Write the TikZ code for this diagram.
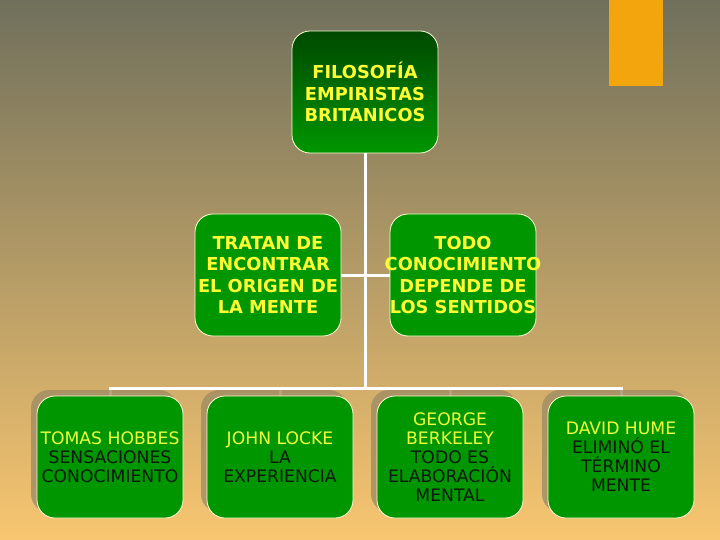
\documentclass[tikz,border=0pt]{standalone}
\usepackage{fontspec}
\setmainfont{DejaVu Sans}
\usetikzlibrary{shadows,backgrounds}

\definecolor{boxgreen}{RGB}{0,150,0}
\definecolor{topgreen}{RGB}{0,72,0}
\definecolor{txtyellow}{RGB}{255,255,51}
\definecolor{nameyellow}{RGB}{238,255,60}
\definecolor{txtdark}{RGB}{10,25,10}
\definecolor{shadowtan}{RGB}{160,140,100}
\definecolor{bgtop}{RGB}{112,112,92}
\definecolor{bgmid}{RGB}{190,160,105}
\definecolor{bgbot}{RGB}{248,198,112}
\definecolor{taborange}{RGB}{242,165,12}

\tikzset{
  box/.style={draw=white!85!yellow, line width=0.8pt, rounded corners=18pt,
    minimum width=146pt, minimum height=122pt, inner sep=0pt},
  boxtext/.style={align=center, text=txtyellow,
    font=\bfseries\fontsize{17.8}{21.5}\selectfont},
  leaftext/.style={align=center, text=txtdark,
    font=\fontsize{17.2}{19}\selectfont},
  leaf/.style={box, fill=boxgreen,
    drop shadow={shadow xshift=-6pt, shadow yshift=6pt, fill=shadowtan, opacity=0.8}},
  link/.style={draw=white, line width=3pt},
}

\begin{document}
\begin{tikzpicture}[x=1pt,y=-1pt]
  \node (emp) at (365,92) [box, top color=topgreen, bottom color=boxgreen,
    label={[boxtext]center:FILOSOFÍA\\EMPIRISTAS\\BRITANICOS}]{};

  \node (tratan) at (268,275) [box, fill=boxgreen,
    label={[boxtext]center:TRATAN DE\\ENCONTRAR\\EL ORIGEN DE\\LA MENTE}]{};
  \node (todo) at (463,275) [box, fill=boxgreen,
    label={[boxtext]center:TODO\\CONOCIMIENTO\\DEPENDE DE\\LOS SENTIDOS}]{};

  \node (hobbes) at (110,457) [leaf,
    label={[leaftext]center:\textcolor{nameyellow}{TOMAS HOBBES}\\SENSACIONES\\CONOCIMIENTO}]{};
  \node (locke) at (280,457) [leaf,
    label={[leaftext]center:\textcolor{nameyellow}{JOHN LOCKE}\\LA\\EXPERIENCIA}]{};
  \node (berkeley) at (450,457) [leaf,
    label={[leaftext]center:\textcolor{nameyellow}{GEORGE}\\\textcolor{nameyellow}{BERKELEY}\\TODO ES\\ELABORACIÓN\\MENTAL}]{};
  \node (hume) at (621,457) [leaf,
    label={[leaftext]center:\textcolor{nameyellow}{DAVID HUME}\\ELIMINÓ EL\\TÉRMINO\\MENTE}]{};

  \coordinate (bus) at (365,388);

  \begin{scope}[on background layer]
    \shade[top color=bgtop, middle color=bgmid, bottom color=bgbot] (0,0) rectangle (720,540);
    \fill[taborange] (609,0) rectangle (663,86);

    \draw[link] (emp.south) -- (bus);
    \draw[link] (tratan.east) -- (todo.west);
    \draw[link] (bus) -| (hobbes.north);
    \draw[link] (bus) -| (locke.north);
    \draw[link] (bus) -| (berkeley.north);
    \draw[link] (bus) -| (hume.north);
  \end{scope}
\end{tikzpicture}
\end{document}
